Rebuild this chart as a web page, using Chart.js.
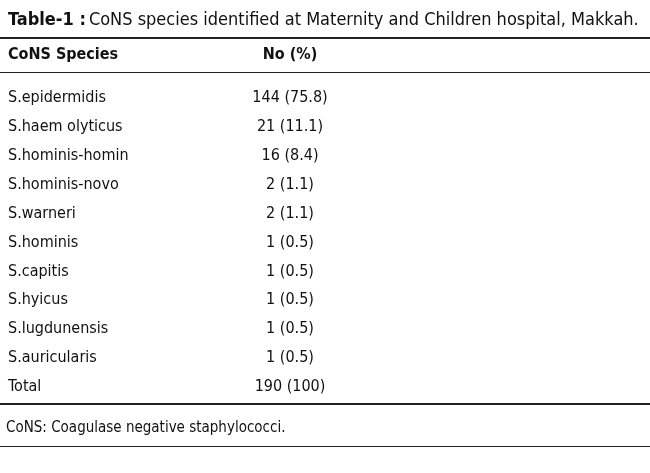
<!DOCTYPE html>
<html>
<head>
<meta charset="utf-8">
<script src="https://cdn.jsdelivr.net/npm/chart.js@4"></script>
<style>
  html, body { margin: 0; padding: 0; background: #fff; }
  #wrap { width: 650px; height: 473px; position: relative; }
</style>
</head>
<body>
<div id="wrap"><canvas id="tableChart"></canvas></div>
<script>
// table data
const species = ['S.epidermidis', 'S.haem olyticus', 'S.hominis-homin', 'S.hominis-novo', 'S.warneri',
  'S.hominis', 'S.capitis', 'S.hyicus', 'S.lugdunensis', 'S.auricularis', 'Total'];
const counts = [144, 21, 16, 2, 2, 1, 1, 1, 1, 1, 190];
const percents = ['75.8', '11.1', '8.4', '1.1', '1.1', '0.5', '0.5', '0.5', '0.5', '0.5', '100'];
const colHeaders = ['CoNS Species', 'No (%)'];

const FONT = '"Liberation Sans Narrow", "DejaVu Sans Condensed", "Noto Sans", sans-serif';

const tablePlugin = {
  id: 'tableText',
  afterDraw(chart) {
    const ctx = chart.ctx;
    const y = chart.scales.y;
    const W = chart.width;
    ctx.save();
    ctx.fillStyle = '#111';
    ctx.textBaseline = 'middle';

    // title
    ctx.font = 'bold 18px ' + FONT;
    ctx.textAlign = 'left';
    ctx.fillText('Table-1 :', 8, 20);
    const tw = ctx.measureText('Table-1 :').width;
    ctx.font = '18px ' + FONT;
    ctx.fillText('CoNS species identified at Maternity and Children hospital, Makkah.', 8 + tw + 3, 20);

    // header
    ctx.font = 'bold 16px ' + FONT;
    ctx.fillText(colHeaders[0], 8, 55);
    ctx.textAlign = 'center';
    ctx.fillText(colHeaders[1], 290, 55);

    // rows
    ctx.font = '16px ' + FONT;
    species.forEach((name, i) => {
      const py = y.getPixelForValue(i);
      ctx.textAlign = 'left';
      ctx.fillText(name, 8, py);
      ctx.textAlign = 'center';
      ctx.fillText(counts[i] + ' (' + percents[i] + ')', 290, py);
    });

    // footnote
    ctx.textAlign = 'left';
    ctx.font = '15px ' + FONT;
    ctx.fillText('CoNS: Coagulase negative staphylococci.', 6, 428);

    // rules
    ctx.strokeStyle = '#222';
    ctx.lineWidth = 2;
    [38, 404].forEach(ly => {
      ctx.beginPath(); ctx.moveTo(0, ly); ctx.lineTo(W, ly); ctx.stroke();
    });
    ctx.lineWidth = 1;
    [72, 446].forEach(ly => {
      ctx.beginPath(); ctx.moveTo(0, ly + 0.5); ctx.lineTo(W, ly + 0.5); ctx.stroke();
    });
    ctx.restore();
  }
};

new Chart(document.getElementById('tableChart'), {
  type: 'scatter',
  data: {
    labels: species,
    datasets: [{ data: [], pointRadius: 0 }]
  },
  options: {
    responsive: true,
    maintainAspectRatio: false,
    animation: false,
    layout: { padding: { top: 83.5, bottom: 71.5, left: 0, right: 0 } },
    plugins: { legend: { display: false }, tooltip: { enabled: false } },
    scales: {
      x: { type: 'linear', display: false, min: 0, max: 1 },
      y: { type: 'category', labels: species, offset: true, display: false }
    }
  },
  plugins: [tablePlugin]
});
</script>
</body>
</html>
